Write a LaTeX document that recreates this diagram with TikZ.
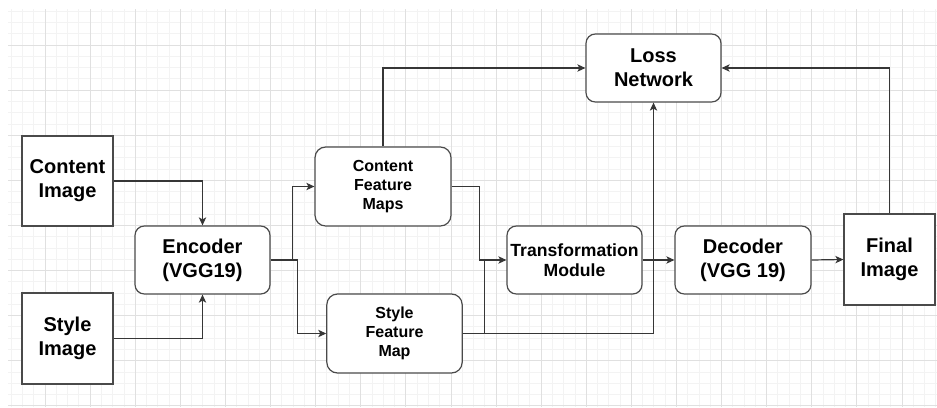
\documentclass[tikz,border=0pt]{standalone}
\usepackage{fontspec}
\setmainfont{Liberation Sans}
\usetikzlibrary{arrows.meta}
\definecolor{gridmajor}{HTML}{E0E0E0}
\definecolor{gridminor}{HTML}{F3F3F3}
\definecolor{ink}{HTML}{363636}
\definecolor{border}{HTML}{4A4A4A}
\tikzset{
  base/.style={draw=border, line width=0.9pt, fill=white, inner sep=0pt, align=center, text=black, font=\bfseries},
  sq/.style={base, minimum width=68.25pt, minimum height=68.25pt, font=\bfseries\fontsize{15pt}{18pt}\selectfont},
  rbox/.style={base, rounded corners=7pt, minimum width=101.25pt, minimum height=51pt, font=\bfseries\fontsize{15pt}{18pt}\selectfont},
  fbox/.style={base, rounded corners=8pt, minimum width=101.5pt, minimum height=59.25pt, font=\bfseries\fontsize{12pt}{14.4pt}\selectfont},
  conn/.style={draw=ink, line width=0.9pt},
  arr/.style={conn, -{Stealth[length=6pt,width=5.5pt,inset=1.5pt]}},
}
\begin{document}
\begin{tikzpicture}[x=0.75pt,y=-0.75pt]
\useasboundingbox (0,0) rectangle (937,407);
\fill[white] (0,0) rectangle (937,407);
\begin{scope}
\clip (8,9) rectangle (937,407);
\foreach \i in {0,...,84} {
  \draw[gridminor, line width=0.75pt] ({\i*11.275},0) -- ({\i*11.275},407);
}
\foreach \j in {0,...,37} {
  \draw[gridminor, line width=0.75pt] (0,{\j*11.275}) -- (937,{\j*11.275});
}
\foreach \i in {0,...,21} {
  \draw[gridmajor, line width=0.75pt] ({\i*45.1},0) -- ({\i*45.1},407);
}
\foreach \j in {0,...,9} {
  \draw[gridmajor, line width=0.75pt] (0,{\j*45.1}) -- (937,{\j*45.1});
}
\end{scope}

\node[sq, minimum height=67.5pt] (ci) at (67.5,181) {Content\\Image};
\node[sq] (si) at (67.5,338.5) {Style\\Image};
\node[rbox] (enc) at (202.5,260) {Encoder\\(VGG19)};
\node[fbox, minimum width=102pt] (cfm) at (383,186.5) {Content\\Feature\\Maps};
\node[fbox] (sfm) at (394.5,333.5) {Style\\Feature\\Map};
\node[rbox, font=\bfseries\fontsize{13.2pt}{15pt}\selectfont] (tm) at (574.5,260) {Transformation\\Module};
\node[rbox] (loss) at (653.5,68) {Loss\\Network};
\node[rbox, minimum width=102pt] (dec) at (743,260) {Decoder\\(VGG 19)};
\node[sq] (fin) at (889.5,259.5) {Final\\Image};

\draw[arr] (ci.east) -| (enc.north);
\draw[arr] (si.east) -| (enc.south);
\draw[arr] (enc.east) -- ++(22,0) |- (cfm.west);
\draw[arr] (enc.east) -- ++(27,0) |- (sfm.west);
\draw[arr] (cfm.north) |- (loss.west);
\draw[arr] (cfm.east) -- ++(28,0) |- (tm.west);
\draw[arr] (sfm.east) -| (loss.south);
\draw[conn] (sfm.east) ++(22,0) coordinate (ja) -- (ja |- tm.west);
\draw[arr] (tm.east) -- (dec.west);
\draw[arr] (dec.east) -- (fin.west);
\draw[arr] (fin.north) |- (loss.east);
\end{tikzpicture}
\end{document}
